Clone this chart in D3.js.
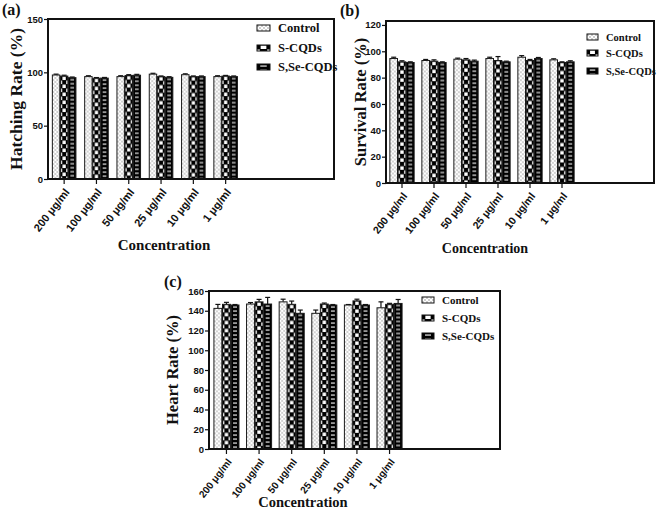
<!DOCTYPE html>
<html>
<head>
<meta charset="utf-8">
<script src="https://cdn.jsdelivr.net/npm/d3@7"></script>
<style>
  html, body { margin: 0; padding: 0; background: #fff; }
  svg { display: block; }
  .tick text { font-family: "Liberation Sans", Arial, sans-serif; font-weight: bold; fill: #111; }
</style>
</head>
<body>
<svg id="chart" width="658" height="520"></svg>
<script>
// ---------------- DATA ----------------
const categories = ["200 μg/ml", "100 μg/ml", "50 μg/ml", "25 μg/ml", "10 μg/ml", "1 μg/ml"];
const seriesNames = ["Control", "S-CQDs", "S,Se-CQDs"];

// (a) Hatching rate (%)
const hatchControl = [97.5, 96.0, 96.0, 98.3, 97.8, 96.0];
const hatchSCQDs   = [96.5, 94.5, 97.0, 96.0, 96.0, 96.5];
const hatchSSeCQDs = [95.0, 94.6, 97.3, 95.3, 96.0, 96.0];
const hatchErrControl = [0.8, 0.8, 0.8, 0.8, 0.8, 0.8];
const hatchErrSCQDs   = [0.8, 0.6, 0.8, 0.6, 0.6, 0.6];
const hatchErrSSeCQDs = [0.6, 0.6, 0.8, 0.6, 0.6, 0.6];
const hatchTicks = [0, 50, 100, 150];

// (b) Survival rate (%)
const survControl = [94.5, 93.0, 94.0, 94.5, 95.5, 93.5];
const survSCQDs   = [92.0, 92.5, 93.5, 93.0, 93.0, 91.5];
const survSSeCQDs = [91.5, 91.5, 92.5, 92.0, 94.5, 92.0];
const survErrControl = [1.0, 0.8, 0.8, 1.0, 1.2, 0.8];
const survErrSCQDs   = [0.8, 1.0, 1.0, 3.0, 0.8, 0.5];
const survErrSSeCQDs = [0.5, 0.5, 0.8, 0.5, 0.8, 0.8];
const survTicks = [0, 20, 40, 60, 80, 100, 120];

// (c) Heart rate (%)
const heartControl = [142.4, 146.8, 149.0, 137.4, 145.8, 143.0];
const heartSCQDs   = [146.5, 149.0, 146.5, 146.8, 150.0, 146.5];
const heartSSeCQDs = [145.8, 146.8, 137.4, 145.8, 145.8, 147.4];
const heartErrControl = [4.0, 1.5, 2.7, 3.3, 0.5, 6.0];
const heartErrSCQDs   = [2.0, 2.5, 3.3, 1.0, 1.7, 1.0];
const heartErrSSeCQDs = [0.5, 6.7, 3.3, 0.5, 0.5, 4.0];
const heartTicks = [0, 20, 40, 60, 80, 100, 120, 140, 160];

// ---------------- DRAWING ----------------
const svg = d3.select("#chart");
const defs = svg.append("defs");
const serif = "'Liberation Serif', 'Times New Roman', serif";
let patId = 0;

function makePattern(type, x, y, w) {
  const id = "p" + (patId++);
  if (type === 0) {
    const p = defs.append("pattern").attr("id", id).attr("patternUnits", "userSpaceOnUse")
      .attr("x", x).attr("y", y).attr("width", 4).attr("height", 4);
    p.append("rect").attr("width", 4).attr("height", 4).attr("fill", "#fff");
    p.append("circle").attr("cx", 1).attr("cy", 1).attr("r", 0.75).attr("fill", "#8a8a8a");
    p.append("circle").attr("cx", 3).attr("cy", 3).attr("r", 0.75).attr("fill", "#8a8a8a");
  } else if (type === 1) {
    const p = defs.append("pattern").attr("id", id).attr("patternUnits", "userSpaceOnUse")
      .attr("x", x).attr("y", y).attr("width", w).attr("height", 8);
    p.append("rect").attr("width", w).attr("height", 8).attr("fill", "#000");
    p.append("rect").attr("x", w * 0.28).attr("y", 0.5).attr("width", w * 0.44).attr("height", 3.5).attr("fill", "#fff");
    p.append("rect").attr("x", 0).attr("y", 4.5).attr("width", w * 0.22).attr("height", 3.5).attr("fill", "#fff");
    p.append("rect").attr("x", w * 0.78).attr("y", 4.5).attr("width", w * 0.22).attr("height", 3.5).attr("fill", "#fff");
  } else {
    const p = defs.append("pattern").attr("id", id).attr("patternUnits", "userSpaceOnUse")
      .attr("x", x).attr("y", y).attr("width", w).attr("height", 4);
    p.append("rect").attr("width", w).attr("height", 4).attr("fill", "#000");
    p.append("rect").attr("x", w * 0.25).attr("y", 1.5).attr("width", w * 0.5).attr("height", 1.1).attr("fill", "#fff");
  }
  return "url(#" + id + ")";
}

function drawPanel(cfg, seriesVals, seriesErrs, ticks) {
  const g = svg.append("g");
  const y = d3.scaleLinear().domain([0, cfg.ymax]).range([cfg.bottom, cfg.top]);
  const x0 = d3.scaleBand().domain(categories).range([cfg.left, cfg.left + cfg.groupRange])
    .paddingInner(cfg.padIn).paddingOuter(cfg.padOut);
  const x1 = d3.scaleBand().domain(seriesNames).range([0, x0.bandwidth()]).padding(0.08);

  seriesNames.forEach((s, si) => {
    categories.forEach((c, ci) => {
      const v = seriesVals[si][ci];
      const e = seriesErrs[si][ci];
      const bx = x0(c) + x1(s);
      const bw = x1.bandwidth();
      const top = y(v);
      const ey = y(v + e);
      g.append("line").attr("x1", bx + bw / 2).attr("x2", bx + bw / 2)
        .attr("y1", top).attr("y2", ey).attr("stroke", "#111").attr("stroke-width", 1.2);
      g.append("line").attr("x1", bx + bw / 2 - 2.5).attr("x2", bx + bw / 2 + 2.5)
        .attr("y1", ey).attr("y2", ey).attr("stroke", "#111").attr("stroke-width", 1.2);
      g.append("rect").attr("x", bx).attr("y", top).attr("width", bw)
        .attr("height", y(0) - top)
        .attr("fill", makePattern(si, bx, top, bw))
        .attr("stroke", "#1a1a1a").attr("stroke-width", 1);
    });
  });

  g.append("rect").attr("x", cfg.left).attr("y", cfg.top).attr("width", cfg.right - cfg.left)
    .attr("height", cfg.bottom - cfg.top).attr("fill", "none").attr("stroke", "#111").attr("stroke-width", 2);

  const ya = g.append("g").attr("transform", `translate(${cfg.left},0)`)
    .call(d3.axisLeft(y).tickValues(ticks).tickSize(4).tickPadding(1).tickFormat(d3.format("d")));
  ya.select(".domain").remove();
  ya.selectAll("line").attr("stroke", "#111").attr("stroke-width", 1.2);
  ya.selectAll("text").style("font-size", "9.5px");

  const xa = g.append("g").attr("transform", `translate(0,${cfg.bottom})`)
    .call(d3.axisBottom(x0).tickSize(5));
  xa.select(".domain").remove();
  xa.selectAll("line").attr("stroke", "#111").attr("stroke-width", 1.2);
  xa.selectAll("text").style("font-size", cfg.xFont + "px")
    .attr("text-anchor", "end").attr("x", 0).attr("y", 0).attr("dy", "0.35em")
    .attr("transform", "translate(3,11) rotate(-52)");

  g.append("text").attr("transform", `translate(${cfg.yTitleX},${(cfg.top + cfg.bottom) / 2}) rotate(-90)`)
    .attr("text-anchor", "middle").attr("font-family", serif).attr("font-weight", "bold")
    .attr("font-size", cfg.yTitleSize).attr("fill", "#111").text(cfg.yTitle);
  g.append("text").attr("x", cfg.xTitleX).attr("y", cfg.xTitleY).attr("text-anchor", "middle")
    .attr("font-family", serif).attr("font-weight", "bold").attr("font-size", cfg.xTitleSize)
    .attr("fill", "#111").text("Concentration");

  g.append("text").attr("x", cfg.labelX).attr("y", cfg.labelY).attr("font-family", serif)
    .attr("font-weight", "bold").attr("font-size", 16).attr("fill", "#111").text(cfg.label);

  seriesNames.forEach((s, si) => {
    const cy = cfg.legY[si];
    const lx = cfg.legX;
    g.append("rect").attr("x", lx).attr("y", cy - 3).attr("width", cfg.legW).attr("height", 6)
      .attr("fill", makePattern(si, lx, cy - 3, cfg.legW)).attr("stroke", "#111").attr("stroke-width", 1);
    g.append("text").attr("x", lx + cfg.legW + 8).attr("y", cy).attr("dy", "0.35em")
      .attr("font-family", serif).attr("font-weight", "bold").attr("font-size", cfg.legFont)
      .attr("fill", "#111").text(s);
  });
}

drawPanel({
  left: 48, right: 334, top: 19, bottom: 179, ymax: 150,
  groupRange: 193.8, padIn: 0.23, padOut: 0.115, xFont: 11,
  yTitle: "Hatching Rate (%)", yTitleX: 22, yTitleSize: 17.5,
  xTitleX: 164, xTitleY: 250, xTitleSize: 15,
  label: "(a)", labelX: 2, labelY: 15,
  legX: 257, legW: 13, legY: [28, 48, 67], legFont: 12.5
}, [hatchControl, hatchSCQDs, hatchSSeCQDs], [hatchErrControl, hatchErrSCQDs, hatchErrSSeCQDs], hatchTicks);

drawPanel({
  left: 386, right: 654, top: 21, bottom: 183, ymax: 123,
  groupRange: 192, padIn: 0.2, padOut: 0.1, xFont: 10.5,
  yTitle: "Survival Rate (%)", yTitleX: 366, yTitleSize: 16.5,
  xTitleX: 485, xTitleY: 253, xTitleSize: 14,
  label: "(b)", labelX: 340, labelY: 16,
  legX: 587, legW: 11, legY: [37, 53, 71], legFont: 10.5
}, [survControl, survSCQDs, survSSeCQDs], [survErrControl, survErrSCQDs, survErrSSeCQDs], survTicks);

drawPanel({
  left: 209, right: 500, top: 291, bottom: 449, ymax: 160,
  groupRange: 198, padIn: 0.19, padOut: 0.13, xFont: 10,
  yTitle: "Heart Rate (%)", yTitleX: 178, yTitleSize: 16.5,
  xTitleX: 303, xTitleY: 507, xTitleSize: 14.5,
  label: "(c)", labelX: 164, labelY: 287,
  legX: 422, legW: 12, legY: [300, 318, 336], legFont: 11
}, [heartControl, heartSCQDs, heartSSeCQDs], [heartErrControl, heartErrSCQDs, heartErrSSeCQDs], heartTicks);
</script>
</body>
</html>
